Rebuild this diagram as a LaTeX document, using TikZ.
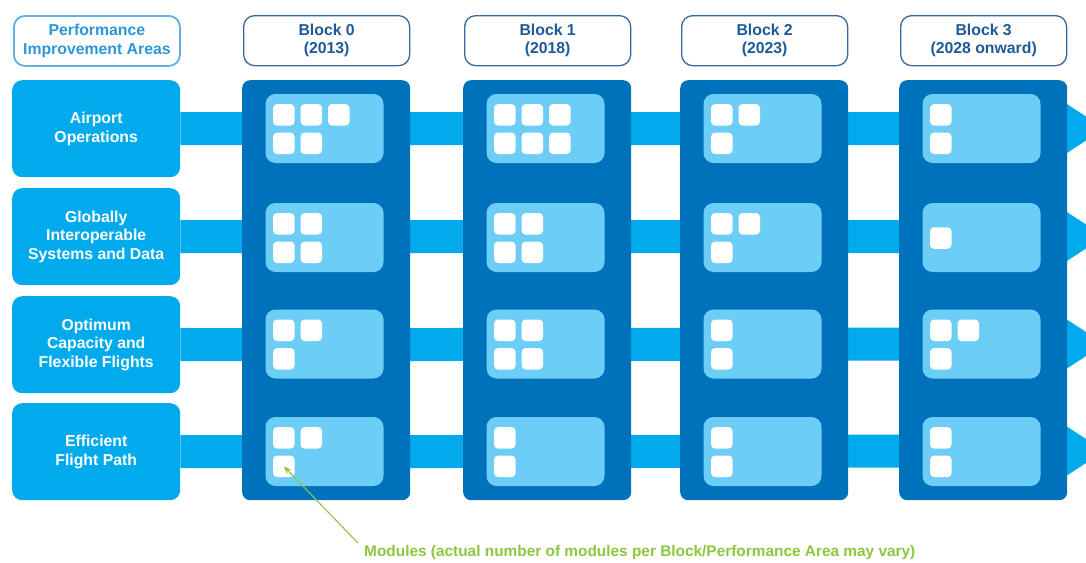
\documentclass[tikz,border=0pt]{standalone}
\usepackage{fontspec}
\setmainfont{Liberation Sans}
\usetikzlibrary{arrows.meta,calc}

\definecolor{bandblue}{RGB}{0,170,236}
\definecolor{blockblue}{RGB}{0,114,188}
\definecolor{panelblue}{RGB}{108,205,246}
\definecolor{hdrline}{RGB}{96,176,226}
\definecolor{hdrtext}{RGB}{45,150,215}
\definecolor{blkline}{RGB}{50,105,160}
\definecolor{blktext}{RGB}{30,90,150}
\definecolor{notegreen}{RGB}{141,198,63}

\begin{document}
\begin{tikzpicture}[x=1pt,y=-1pt,
  txt/.style={font=\bfseries\fontsize{15.8}{18.5}\selectfont, align=center},
  areahdr/.style={txt, draw=hdrline, line width=1.8pt, rounded corners=11pt, fill=white,
    text=hdrtext, minimum width=166pt, minimum height=50pt, inner sep=0pt, anchor=north west},
  blockhdr/.style={txt, draw=blkline, line width=1.3pt, rounded corners=11pt, fill=white,
    text=blktext, minimum width=166pt, minimum height=50pt, inner sep=0pt, anchor=north west},
  area/.style={txt, fill=bandblue, text=white, rounded corners=10pt,
    minimum width=168pt, minimum height=97pt, inner sep=0pt, anchor=north west},
  band/.style={draw=bandblue, line width=33pt,
    -{Triangle[length=38pt,width=46pt]}},
  blockcol/.style={fill=blockblue, rounded corners=8pt, minimum width=168pt,
    minimum height=420pt, inner sep=0pt, anchor=north west},
  panel/.style={fill=panelblue, rounded corners=10pt, minimum width=118pt,
    minimum height=69pt, inner sep=0pt},
  module/.style={fill=white, rounded corners=4pt, minimum size=21.5pt, inner sep=0pt},
  note/.style={font=\bfseries\fontsize{15.4}{17}\selectfont, text=notegreen,
    inner sep=0pt, anchor=west},
  annot/.style={draw=notegreen, line width=1.1pt, -{Stealth[length=8pt,width=6pt]}}
]
\useasboundingbox (0,0) rectangle (1086,562);
\clip (0,0) rectangle (1086,562);
\fill[white] (0,0) rectangle (1086,562);

% column headings
\node[areahdr] (hpia) at (13,15) {Performance\\Improvement Areas};
\node[blockhdr] (hb0) at (243,15) {Block 0\\(2013)};
\node[blockhdr] (hb1) at (464,15) {Block 1\\(2018)};
\node[blockhdr] (hb2) at (681,15) {Block 2\\(2023)};
\node[blockhdr] (hb3) at (900,15) {Block 3\\(2028 onward)};

% performance improvement areas
\node[area] (a1) at (12,80) {Airport\\Operations};
\node[area] (a2) at (12,188) {Globally\\Interoperable\\Systems and Data};
\node[area] (a3) at (12,296) {Optimum\\Capacity and\\Flexible Flights};
\node[area] (a4) at (12,403) {Efficient\\Flight Path};

% timeline bands running through every block
\foreach \r/\y in {1/128.5,2/236.5,3/344,4/451} {
  \coordinate (tip\r) at (1105,\y);
  \draw[band] (a\r.east) -- (tip\r);
}

% blocks, each with one panel per area
\foreach \bx [count=\c from 0] in {242,463,680,899} {
  \node[blockcol] (b\c) at (\bx,80) {};
  \foreach \py [count=\r] in {128.5,237.5,344,451.5}
    \node[panel] (p\r\c) at (\bx+82.5,\py) {};
}

% modules in each panel: column/row positions
\foreach \r/\c/\mods in {
  1/0/{0/0,1/0,2/0,0/1,1/1},
  1/1/{0/0,1/0,2/0,0/1,1/1,2/1},
  1/2/{0/0,1/0,0/1},
  1/3/{0/0,0/1},
  2/0/{0/0,1/0,0/1,1/1},
  2/1/{0/0,1/0,0/1,1/1},
  2/2/{0/0,1/0,0/1},
  2/3/{0/0.5},
  3/0/{0/0,1/0,0/1},
  3/1/{0/0,1/0,0/1,1/1},
  3/2/{0/0,0/1},
  3/3/{0/0,1/0,0/1},
  4/0/{0/0,1/0,0/1},
  4/1/{0/0,0/1},
  4/2/{0/0,0/1},
  4/3/{0/0,0/1}} {
  \foreach \i/\j [count=\k] in \mods
    \node[module] (m\r\c\k) at ($(p\r\c.north west)+(18.5+27.5*\i,21+28.5*\j)$) {};
}

% annotation
\node[note] (note) at (364,553) {Modules (actual number of modules per Block/Performance Area may vary)};
\coordinate (nstart) at (358,543);
\draw[annot] (nstart) -- (m403.center);
\end{tikzpicture}
\end{document}
